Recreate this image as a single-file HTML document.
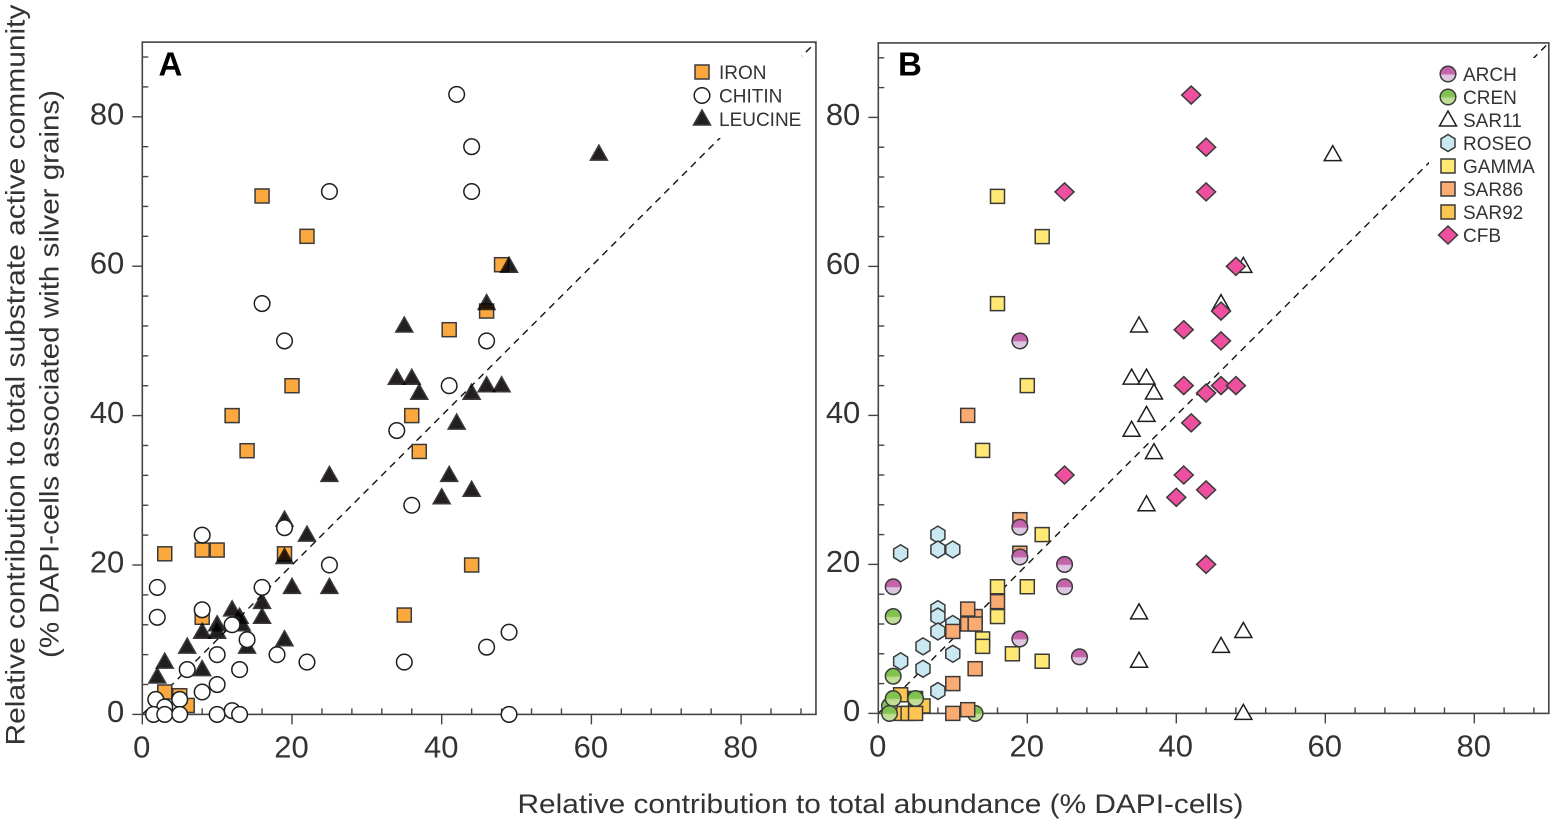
<!DOCTYPE html>
<html lang="en">
<head>
<meta charset="utf-8">
<title>Relative contribution scatter plots</title>
<style>
html,body{margin:0;padding:0;background:#fff;width:1552px;height:823px;overflow:hidden}
svg{display:block}
text{font-family:"Liberation Sans",sans-serif;fill:#333}
</style>
</head>
<body>
<svg id="figure" xmlns="http://www.w3.org/2000/svg" width="1552" height="823" viewBox="0 0 1552 823">
  <defs>
    <linearGradient id="archFill" x1="0" y1="0" x2="0" y2="1">
      <stop offset="0" stop-color="#c05fa6"/><stop offset="0.5" stop-color="#c666ab"/><stop offset="0.56" stop-color="#dcc2e0"/><stop offset="1" stop-color="#dfc9e4"/>
    </linearGradient>
    <linearGradient id="crenFill" x1="0" y1="0" x2="0" y2="1">
      <stop offset="0" stop-color="#7cc04a"/><stop offset="0.5" stop-color="#84c452"/><stop offset="0.56" stop-color="#bddb92"/><stop offset="1" stop-color="#c5e09e"/>
    </linearGradient>
  </defs>
  <g id="panelA"></g>
  <g id="panelB"></g>
  <text x="880.5" y="813" font-size="27" text-anchor="middle" textLength="726" lengthAdjust="spacingAndGlyphs">Relative contribution to total abundance (% DAPI-cells)</text>
  <text transform="translate(24.5,375) rotate(-90)" font-size="27" text-anchor="middle" textLength="741" lengthAdjust="spacingAndGlyphs">Relative contribution to total substrate active community</text>
  <text transform="translate(58.5,374) rotate(-90)" font-size="27" text-anchor="middle" textLength="568" lengthAdjust="spacingAndGlyphs">(% DAPI-cells associated with silver grains)</text>
</svg>
<script>
// ---- Chart data ----
var tickValues = [0, 20, 40, 60, 80];
var minorTickValues = [4, 8, 12, 16, 24, 28, 32, 36, 44, 48, 52, 56, 64, 68, 72, 76, 84, 88];
var identityLine = [0, 90];

var ironX = [16, 22, 48, 20, 41, 46, 12, 36, 14, 37, 3, 8, 10, 19, 44, 35, 8, 3, 5, 6];
var ironY = [69.4, 64, 60.2, 44, 51.5, 54, 40, 40, 35.3, 35.2, 21.5, 22, 22, 21.5, 20, 13.3, 13, 3, 2.5, 1.2];

var leucineX = [61, 49, 46, 35, 34, 36, 37, 46, 48, 44, 42, 41, 40, 44, 25, 25, 19, 22, 19, 20, 16, 16, 12, 13, 13.3, 14, 10, 10, 8, 6, 8, 3, 2, 19];
var leucineY = [75, 60, 55, 52, 45, 45, 43, 44, 44, 43, 39, 32, 29, 30, 32, 17, 26, 24, 21, 17, 15, 13, 14, 13, 12, 9, 12, 11, 11, 9, 6, 7, 5, 10];

var chitinX = [42, 44, 44, 25, 16, 19, 46, 41, 34, 36, 8, 19, 25, 2, 16, 2, 8, 12, 14, 10, 18, 13, 6, 22, 35, 46, 49, 10, 8, 1.8, 5, 3, 1.5, 3, 5, 10, 12, 13, 49];
var chitinY = [83, 76, 70, 70, 55, 50, 50, 44, 38, 28, 24, 25, 20, 17, 17, 13, 14, 12, 10, 8, 8, 6, 6, 7, 7, 9, 11, 4, 3, 2, 2, 1, 0, 0, 0, 0, 0.5, 0, 0];

var sar11X = [61, 49, 46, 35, 34, 36, 37, 36, 34, 37, 36, 35, 35, 46, 49, 49];
var sar11Y = [75, 60, 55, 52, 45, 45, 43, 40, 38, 35, 28, 13.5, 7, 9, 11, 0];

var roseoX = [3, 8, 8, 10, 8, 8, 10, 8, 6, 3, 6, 10, 8];
var roseoY = [21.5, 24, 22, 22, 14, 13, 12, 11, 9, 7, 6, 8, 3];

var gammaX = [16, 22, 16, 20, 14, 22, 16, 20, 16, 14, 14, 18, 22];
var gammaY = [69.4, 64, 55, 44, 35.3, 24, 17, 17, 13, 10, 9, 8, 7];

var sar92X = [3, 5, 6, 3, 4, 5];
var sar92Y = [2.5, 2, 1, 0, 0, 0];

var crenX = [2, 2, 1.5, 2, 5, 1.5, 13];
var crenY = [13, 5, 1, 2, 2, 0, 0];

var sar86X = [19, 19, 12, 16, 13, 12, 12, 13, 10, 13, 10, 10, 12];
var sar86Y = [26, 21.5, 40, 15, 13, 14, 12, 12, 11, 6, 4, 0, 0.5];

var archX = [19, 19, 19, 25, 25, 2, 19, 27];
var archY = [50, 25, 21, 20, 17, 17, 10, 7.6];

var cfbX = [42, 44, 44, 25, 48, 46, 41, 46, 41, 44, 46, 48, 42, 41, 40, 44, 25, 44];
var cfbY = [83, 76, 70, 70, 60, 54, 51.5, 50, 44, 43, 44, 44, 39, 32, 29, 30, 32, 20];

// ---- Helpers ----
var NS = 'http://www.w3.org/2000/svg';
function make(parent, tag, attrs) {
  var el = document.createElementNS(NS, tag);
  for (var k in attrs) el.setAttribute(k, attrs[k]);
  parent.appendChild(el);
  return el;
}
var INK = '#3a3a3a';
var styles = {
  iron:    {shape: 'square',   fill: '#fba93f'},
  chitin:  {shape: 'circle',   fill: '#ffffff'},
  leucine: {shape: 'triangle', fill: '#231f20'},
  sar11:   {shape: 'triangle', fill: '#ffffff'},
  roseo:   {shape: 'hexagon',  fill: '#c9e8f2'},
  gamma:   {shape: 'square',   fill: '#ffe873'},
  sar92:   {shape: 'square',   fill: '#fdc552'},
  cren:    {shape: 'circle',   fill: 'url(#crenFill)'},
  sar86:   {shape: 'square',   fill: '#f9ab71'},
  arch:    {shape: 'circle',   fill: 'url(#archFill)'},
  cfb:     {shape: 'diamond',  fill: '#ee509f'}
};
function drawMarker(parent, key, cx, cy) {
  var s = styles[key];
  var common = {fill: s.fill, stroke: key === 'chitin' || key === 'sar11' ? '#1e1e1e' : INK, 'stroke-width': 1.5};
  var el;
  if (s.shape === 'square') {
    el = make(parent, 'rect', common);
    el.setAttribute('x', cx - 7); el.setAttribute('y', cy - 7);
    el.setAttribute('width', 14); el.setAttribute('height', 14);
  } else if (s.shape === 'circle') {
    el = make(parent, 'circle', common);
    el.setAttribute('cx', cx); el.setAttribute('cy', cy); el.setAttribute('r', 7.8);
  } else {
    var pts;
    if (s.shape === 'triangle') pts = [[0, -9], [8.5, 6], [-8.5, 6]];
    if (s.shape === 'hexagon') pts = [[0, -8.5], [7, -4.2], [7, 4.2], [0, 8.5], [-7, 4.2], [-7, -4.2]];
    if (s.shape === 'diamond') pts = [[0, -9], [9.5, 0], [0, 9], [-9.5, 0]];
    el = make(parent, 'polygon', common);
    el.setAttribute('points', pts.map(function (p) { return (cx + p[0]) + ',' + (cy + p[1]); }).join(' '));
  }
  return el;
}
function drawSeries(parent, key, xs, ys, sx, sy) {
  for (var i = 0; i < xs.length; i++) {
    var m = drawMarker(parent, key, sx(xs[i]), sy(ys[i]));
    
    
    if (key === 'leucine') m.style.mixBlendMode = 'multiply';
  }
}
function drawAxes(parent, sx, sy, blank, prefix) {
  var left = sx(0), right = sx(90), top = sy(90), bottom = sy(0);

  var diag = make(parent, 'line', {x1: sx(identityLine[0]), y1: sy(identityLine[0]), x2: sx(identityLine[1]), y2: sy(identityLine[1]), stroke: '#111', 'stroke-width': 1.4, 'stroke-dasharray': '7 5.5'});
  
  

  var mask = make(parent, 'rect', {x: blank[0], y: blank[1], width: blank[2], height: blank[3], fill: '#fff'});
  
  

  var frame = make(parent, 'rect', {x: left, y: top, width: right - left, height: bottom - top, fill: 'none', stroke: '#444', 'stroke-width': 1.6});
  
  

  minorTickValues.forEach(function (v) {
    var a = make(parent, 'line', {x1: sx(v), x2: sx(v), y1: bottom, y2: bottom - 6, stroke: '#444', 'stroke-width': 1.4});
    
    
    var b = make(parent, 'line', {x1: left, x2: left + 6, y1: sy(v), y2: sy(v), stroke: '#444', 'stroke-width': 1.4});
    
    
  });
  tickValues.forEach(function (v) {
    var a = make(parent, 'line', {x1: sx(v), x2: sx(v), y1: bottom, y2: bottom + 10, stroke: '#444', 'stroke-width': 1.4});
    
    
    var b = make(parent, 'line', {x1: left - 10, x2: left, y1: sy(v), y2: sy(v), stroke: '#444', 'stroke-width': 1.4});
    
    
    var tx = make(parent, 'text', {x: sx(v) - 0.5, y: bottom + 43, 'font-size': 31, 'text-anchor': 'middle'});
    tx.textContent = String(v);
    
    
    var ty = make(parent, 'text', {x: left - 18, y: sy(v) + 7.5, 'font-size': 31, 'text-anchor': 'end'});
    ty.textContent = String(v);
    
    
  });
}
function drawLegend(parent, entries, mx, tx, startY, stepY) {
  entries.forEach(function (e, i) {
    var y = startY + i * stepY;
    var m = drawMarker(parent, e[0], mx, y);
    
    
    var t = make(parent, 'text', {x: tx, y: y + 7, 'font-size': 19});
    t.textContent = e[1];
    
    
  });
}

// ---- Panel A ----
var gA = document.getElementById('panelA');
function ax(v) { return 142.3 + v * 7.485; }
function ay(v) { return 714.4 - v * 7.47; }
drawAxes(gA, ax, ay, [680, 56, 122, 82], 'panel-a');
drawSeries(gA, 'iron', ironX, ironY, ax, ay);
drawSeries(gA, 'leucine', leucineX, leucineY, ax, ay);
drawSeries(gA, 'chitin', chitinX, chitinY, ax, ay);
drawLegend(gA, [['iron', 'IRON'], ['chitin', 'CHITIN'], ['leucine', 'LEUCINE']], 702, 719, 72, 23.5);
var labelA = make(gA, 'text', {x: 158.5, y: 75.5, 'font-size': 33, 'font-weight': 'bold'});
labelA.textContent = 'A';
labelA.style.fill = '#000';



// ---- Panel B ----
var gB = document.getElementById('panelB');
function bx(v) { return 878.3 + v * 7.45; }
function by(v) { return 713.4 - v * 7.45; }
drawAxes(gB, bx, by, [1429, 58, 106, 190], 'panel-b');
drawSeries(gB, 'sar11', sar11X, sar11Y, bx, by);
drawSeries(gB, 'roseo', roseoX, roseoY, bx, by);
drawSeries(gB, 'gamma', gammaX, gammaY, bx, by);
drawSeries(gB, 'sar92', sar92X, sar92Y, bx, by);
drawSeries(gB, 'cren', crenX, crenY, bx, by);
drawSeries(gB, 'sar86', sar86X, sar86Y, bx, by);
drawSeries(gB, 'arch', archX, archY, bx, by);
drawSeries(gB, 'cfb', cfbX, cfbY, bx, by);
drawLegend(gB, [['arch', 'ARCH'], ['cren', 'CREN'], ['sar11', 'SAR11'], ['roseo', 'ROSEO'], ['gamma', 'GAMMA'], ['sar86', 'SAR86'], ['sar92', 'SAR92'], ['cfb', 'CFB']], 1448, 1463, 74, 23);
var labelB = make(gB, 'text', {x: 898, y: 75.5, 'font-size': 33, 'font-weight': 'bold'});
labelB.textContent = 'B';
labelB.style.fill = '#000';


</script>
</body>
</html>
